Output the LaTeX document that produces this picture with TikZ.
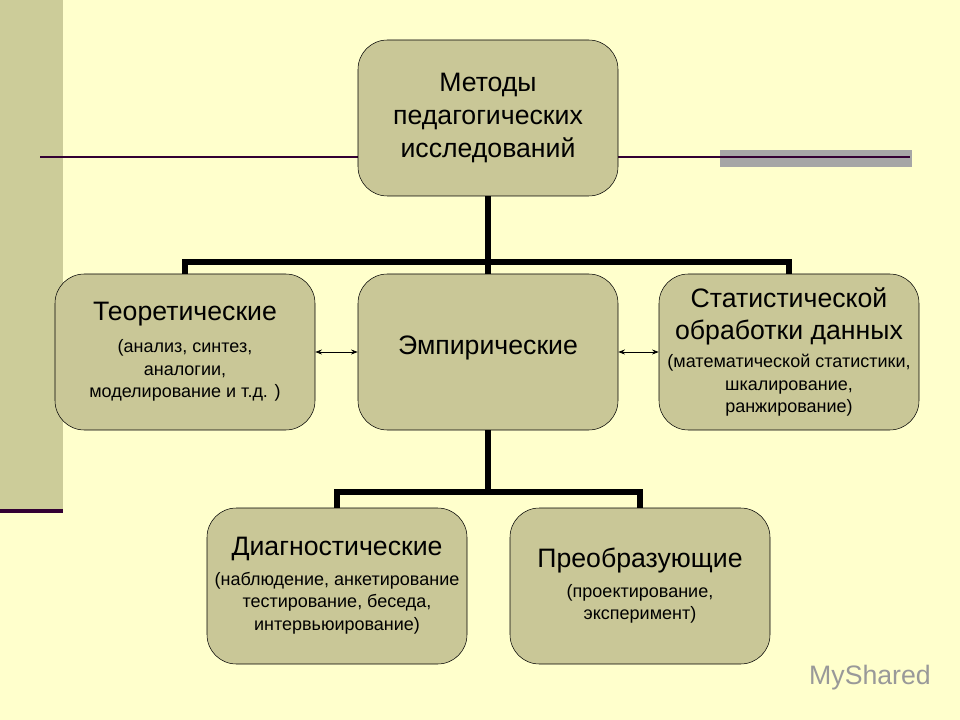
\documentclass[tikz,border=0pt]{standalone}
\usepackage{fontspec}
\setmainfont{Liberation Sans}
\usetikzlibrary{arrows.meta}
\definecolor{bg}{HTML}{FFFFCC}
\definecolor{barc}{HTML}{CCCC99}
\definecolor{boxc}{HTML}{C9C797}
\definecolor{dpur}{HTML}{330033}
\newcommand{\sm}{\fontsize{13.5}{16.5}\selectfont}
\tikzset{
 box/.style={draw=black,fill=boxc,rounded corners=22pt,minimum width=195pt,minimum height=117pt,align=center,inner sep=1pt,font=\fontsize{20}{24}\selectfont},
 conn/.style={line width=3.8pt},
}
\begin{document}
\begin{tikzpicture}[x=0.75pt,y=-0.75pt]
\fill[bg] (0,0) rectangle (960,720);
\useasboundingbox (0,0) rectangle (960,720);
\fill[barc] (0,0) rectangle (63,510);
\draw[dpur,line width=3pt] (0,511) -- (63,511);
\fill[gray!70] (720,150) rectangle (912,167);
\draw[dpur,line width=1.5pt] (40,157) -- (910,157);
\node[box,font=\fontsize{20}{25}\selectfont] (top) at (488,118) {Методы\\педагогических\\ исследований};
\node[box] (th) at (185,352) {Теоретические\\ \sm (анализ, синтез,\\[-7pt] \sm аналогии,\\[-7pt] \sm моделирование и т.д. )};
\node[box] (em) at (488,352) {\raisebox{10pt}{Эмпирические}};
\node[box] (st) at (789,352) {Статистической\\ обработки данных\\[-3pt] \sm (математической статистики,\\[-7pt] \sm шкалирование,\\[-7pt] \sm ранжирование)};
\node[box] (di) at (337,586) {Диагностические\\[-2pt] \sm (наблюдение, анкетирование\\[-7pt] \sm тестирование, беседа,\\[-7pt] \sm интервьюирование)};
\node[box] (pr) at (640,586) {Преобразующие\\[-2pt] \sm (проектирование,\\[-7pt] \sm эксперимент)};
\coordinate (j1) at (488,262);
\coordinate (j2) at (488,492);
\draw[conn] (top.south) -- (j1);
\draw[conn] (th.north) |- (j1) -| (st.north);
\draw[conn] (j1) -- (em.north);
\draw[conn] (em.south) -- (j2);
\draw[conn] (di.north) |- (j2) -| (pr.north);
\draw[{Stealth[length=5pt]}-{Stealth[length=5pt]},line width=0.6pt] (th.east) -- (em.west);
\draw[{Stealth[length=5pt]}-{Stealth[length=5pt]},line width=0.6pt] (em.east) -- (st.west);
\node[text=gray!80,font=\fontsize{20}{24}\selectfont] (wm) at (870,678) {MyShared};
\end{tikzpicture}
\end{document}
